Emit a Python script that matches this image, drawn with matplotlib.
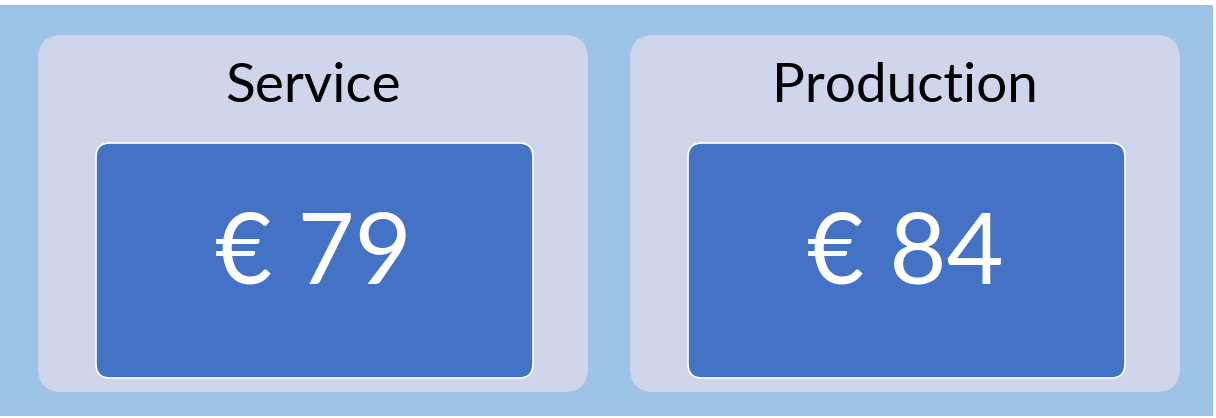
import matplotlib
matplotlib.use("Agg")
import matplotlib.pyplot as plt
from matplotlib.patches import FancyBboxPatch, Rectangle

categories = ["Service", "Production"]
values = [79, 84]
currency = "€"

W, H = 1216, 418
fig = plt.figure(figsize=(W / 100, H / 100), dpi=100)
ax = fig.add_axes([0, 0, 1, 1])
ax.set_xlim(0, W)
ax.set_ylim(H, 0)
ax.axis("off")

ax.add_patch(Rectangle((0, 5), 1213, 411, facecolor="#9DC3E6", edgecolor="none"))

font = ["Lato", "DejaVu Sans"]
for i, (cat, val) in enumerate(zip(categories, values)):
    x0 = 38 + i * 592
    ax.add_patch(FancyBboxPatch((x0 + 24, 35 + 24), 550 - 48, 357 - 48,
                                boxstyle="round,pad=24", facecolor="#CFD5EA",
                                edgecolor="none"))
    ax.add_patch(FancyBboxPatch((x0 + 58 + 14, 143 + 14), 437 - 28, 235 - 28,
                                boxstyle="round,pad=14", facecolor="#4472C4",
                                edgecolor="white", linewidth=1.2))
    cx = x0 + 275
    ax.text(cx, 87, cat, ha="center", va="center", fontsize=39.5,
            family=font, color="black")
    ax.text(cx, 256, f"{currency} {val}", ha="center", va="center", fontsize=71,
            family=font, color="white")

fig.savefig("out.png", dpi=100)
